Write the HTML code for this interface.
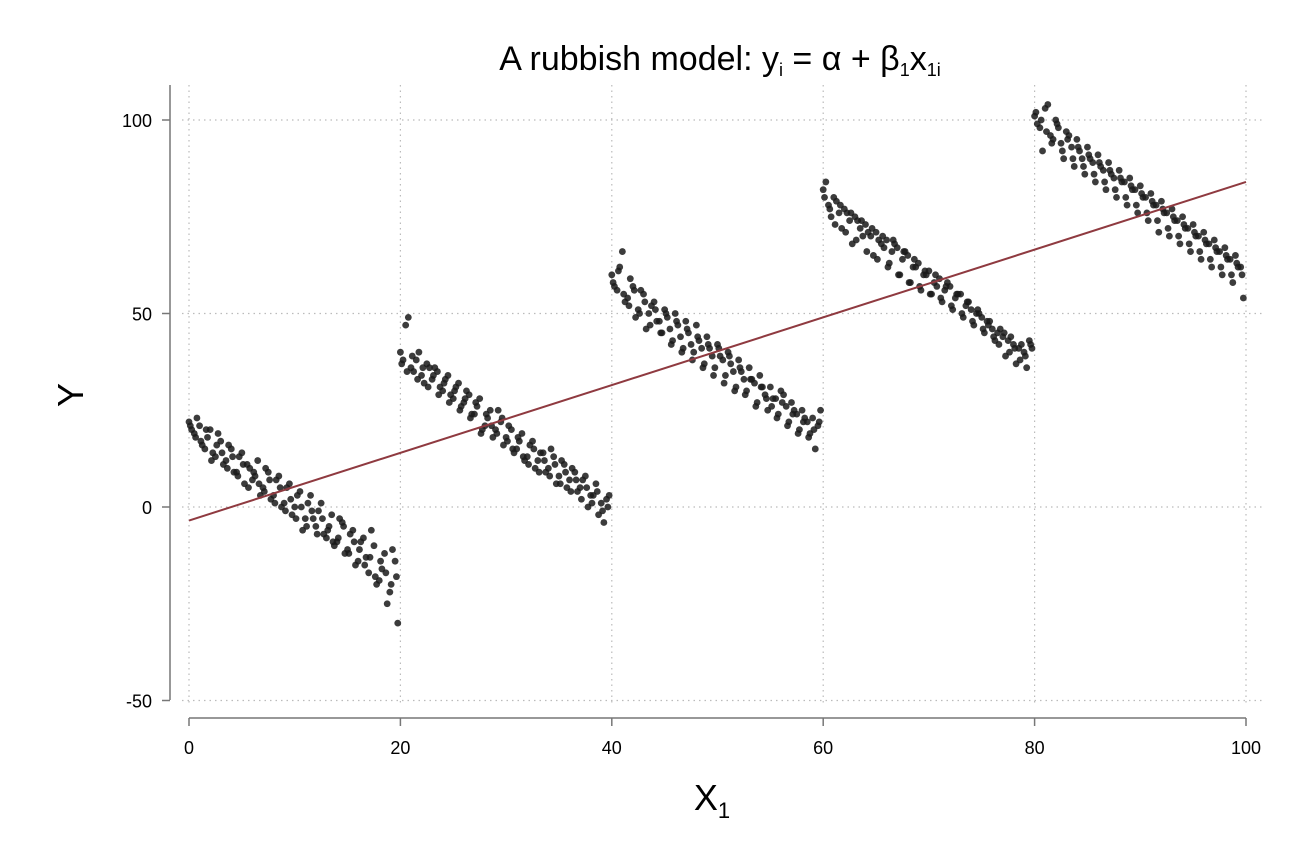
<!DOCTYPE html>
<html><head><meta charset="utf-8"><style>
body{margin:0;background:#fff;}
svg{display:block;font-family:"Liberation Sans",Arial,sans-serif;}
</style></head><body>
<svg id="chart" width="1296" height="864" viewBox="0 0 1296 864">
<rect width="1296" height="864" fill="#fff"/>
<g id="grid"></g><g id="axes"></g><g id="pts"></g><g id="fit"></g>
<text x="720" y="70" font-size="34" text-anchor="middle" fill="#000">A rubbish model: y<tspan font-size="18" dy="6">i</tspan><tspan dy="-6"> = α + β</tspan><tspan font-size="18" dy="6">1</tspan><tspan dy="-6">x</tspan><tspan font-size="18" dy="6">1i</tspan></text>
<text x="80" y="418" font-size="36" text-anchor="middle" fill="#000" transform="rotate(-90 70 405)">Y</text>
<text x="712" y="810" font-size="36" text-anchor="middle" fill="#000">X<tspan font-size="22" dy="8">1</tspan></text>
</svg>
<script>
const xTicks=[0,20,40,60,80,100];
const yTicks=[100,50,0,-50];
const fitStart=[0,-3.5];
const fitEnd=[100,84];
const c0a=[22,19,21,15,20,13,17,12,15,9,14,11,7,12,5,9,3,8,1,6,0,4,-3,3,-5,1,-8,-2,-9,-4,-11,-6,-14,-8,-17,-10,-19,-12,-22,-14];
const c0b=[20,23,16,18,14,19,11,16,9,13,6,10,8,3,10,2,7,0,5,-2,3,-6,1,-3,-1,-7,-5,-10,-3,-12,-7,-15,-9,-13,-6,-20,-16,-25,-11,-30];
const c0c=[21,18,17,20,12,16,14,10,13,8,11,5,9,6,4,7,1,5,-1,2,-3,0,-5,-1,-7,-3,-6,-9,-8,-5,-12,-9,-11,-15,-13,-18,-14,-17,-20,-18];
const c1a=[40,47,36,38,34,37,33,35,30,34,28,32,27,29,24,28,21,25,20,22,18,20,15,19,13,17,12,14,10,13,8,11,7,9,5,8,3,6,1,2];
const c1b=[38,49,35,40,32,36,36,31,33,29,31,26,30,24,26,20,23,18,25,16,21,14,17,12,16,10,14,9,15,6,12,5,10,4,7,0,3,-2,-4,3];
const c1c=[37,35,39,33,36,31,34,29,32,27,30,25,28,23,27,19,24,21,19,23,17,15,18,13,11,15,9,12,8,11,6,9,4,7,2,5,1,4,-1,0];
const c2a=[60,56,66,54,57,51,55,50,53,48,51,46,50,44,48,42,47,41,44,39,42,38,40,35,38,33,36,32,34,29,31,28,30,26,27,24,25,22,23,21];
const c2b=[57,62,53,59,49,56,46,52,48,45,49,43,47,41,45,40,43,37,41,36,39,34,37,31,35,30,33,27,31,25,28,24,29,22,25,20,23,19,15,25];
const c2c=[58,61,55,52,56,50,53,47,51,45,50,42,48,40,46,38,44,36,42,34,41,32,39,30,36,29,33,26,31,28,26,23,27,21,24,19,22,18,20,22];
const c3a=[82,78,80,76,77,74,75,72,73,70,71,68,69,66,67,64,65,62,63,60,61,58,59,56,57,54,55,52,51,50,49,48,46,45,44,43,42,41,40,43];
const c3b=[84,75,79,72,76,68,74,70,71,65,69,67,63,68,60,66,58,62,56,60,55,57,53,58,51,55,49,53,47,50,45,48,43,46,39,44,37,42,36,41];
const c3c=[80,77,73,78,71,76,69,74,66,72,64,70,62,69,60,66,58,64,57,61,55,60,54,57,52,55,50,53,48,51,46,47,44,42,45,40,41,38,39,42];
const c4a=[101,98,103,96,100,94,97,93,95,90,93,89,91,87,89,85,87,84,85,82,83,80,81,78,79,76,77,74,75,72,73,70,71,68,69,66,67,64,65,62];
const c4b=[99,92,104,95,98,90,96,88,92,86,90,84,88,82,86,80,84,78,82,76,80,74,78,71,76,70,74,68,72,66,70,64,68,62,66,60,64,58,62,54];
const c4c=[102,100,97,94,99,92,95,90,93,88,91,86,89,84,87,82,85,80,83,78,81,76,79,74,77,72,75,70,73,68,71,66,69,64,67,62,65,60,63,60];
const clusterStart=[0,20,40,60,80];

const NS="http://www.w3.org/2000/svg";
const X=v=>189+(v/100)*1057;
const Y=v=>507-(v)*3.87;
function mk(tag,attrs,parent){const e=document.createElementNS(NS,tag);for(const k in attrs)e.setAttribute(k,attrs[k]);parent.appendChild(e);return e;}
const grid=document.getElementById('grid'),axes=document.getElementById('axes'),pts=document.getElementById('pts'),fit=document.getElementById('fit');
yTicks.forEach(t=>{
 const l=mk('line',{x1:182,x2:1262,y1:Y(t),y2:Y(t),stroke:'#bbb','stroke-width':1.2,'stroke-dasharray':'1.5,4'},grid);
 
 
 const tk=mk('line',{x1:162,x2:170,y1:Y(t),y2:Y(t),stroke:'#777','stroke-width':1.5},axes);
 
 
 const tx=mk('text',{x:152,y:Y(t)+7,'font-size':18,'text-anchor':'end',fill:'#000'},axes);
 tx.textContent=t;
 
 
});
xTicks.forEach(t=>{
 const l=mk('line',{x1:X(t),x2:X(t),y1:85,y2:706,stroke:'#bbb','stroke-width':1.2,'stroke-dasharray':'1.5,4'},grid);
 
 
 const tk=mk('line',{x1:X(t),x2:X(t),y1:718,y2:726,stroke:'#777','stroke-width':1.5},axes);
 
 
 const tx=mk('text',{x:X(t),y:754,'font-size':18,'text-anchor':'middle',fill:'#000'},axes);
 tx.textContent=t;
 
 
});
const ya=mk('line',{x1:170,x2:170,y1:85,y2:700,stroke:'#777','stroke-width':1.5},axes);


const xa=mk('line',{x1:189,x2:1246,y1:718,y2:718,stroke:'#777','stroke-width':1.5},axes);


const sets=[[c0a,c0b,c0c],[c1a,c1b,c1c],[c2a,c2b,c2c],[c3a,c3b,c3c],[c4a,c4b,c4c]];
const offs=[0,0.25,0.125];
sets.forEach((grp,k)=>{
 grp.forEach((arr,j)=>{
  arr.forEach((v,i)=>{
   const xv=clusterStart[k]+i*0.5+offs[j];
   const c=mk('circle',{cx:X(xv),cy:Y(v),r:3.4,fill:'#1a1a1a','fill-opacity':0.85},pts);
   
   
  });
 });
});
const fl=mk('line',{x1:X(fitStart[0]),y1:Y(fitStart[1]),x2:X(fitEnd[0]),y2:Y(fitEnd[1]),stroke:'#8f3a40','stroke-width':2},fit);


</script>
</body></html>
